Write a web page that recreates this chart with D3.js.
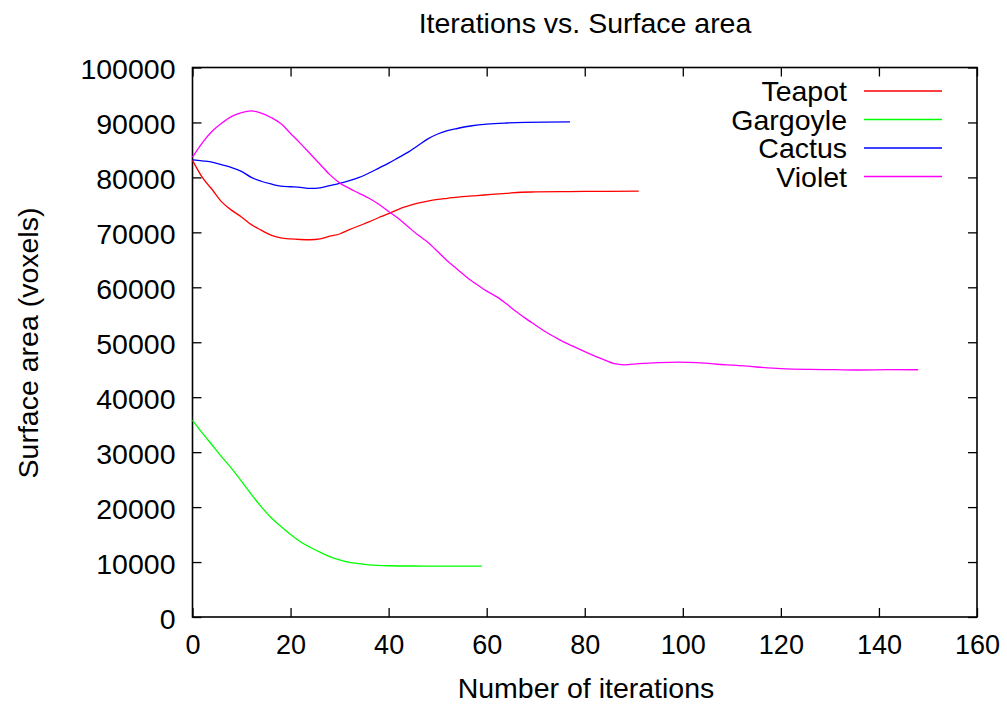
<!DOCTYPE html>
<html>
<head>
<meta charset="utf-8">
<script src="https://cdn.jsdelivr.net/npm/d3@7"></script>
<style>
  html, body { margin: 0; padding: 0; background: #fff; }
  svg { display: block; }
  text { font-family: "Liberation Sans", Arial, Helvetica, sans-serif; fill: #000; }
</style>
</head>
<body>
<svg id="chart" width="1007" height="704"></svg>
<script>
// ---- Data ----
const seriesNames = ["Teapot", "Gargoyle", "Cactus", "Violet"];
const seriesColors = ["#ff0000", "#00ff00", "#0000ff", "#ff00ff"];

const teapotIter = [0, 2, 4, 6, 8, 10, 12, 14, 16, 18, 20, 22, 24, 26, 28, 30, 32, 34, 36, 38, 40, 42, 44, 46, 48, 50, 52, 55, 58, 61, 64, 67, 70, 75, 80, 85, 91];
const teapotArea = [83100, 80000, 77800, 75500, 74000, 72800, 71400, 70400, 69500, 69000, 68800, 68700, 68650, 68800, 69300, 69700, 70500, 71200, 71900, 72700, 73400, 74200, 74800, 75300, 75700, 76000, 76200, 76500, 76700, 76900, 77100, 77300, 77350, 77400, 77450, 77450, 77500];

const gargoyleIter = [0, 2, 4, 6, 8, 10, 12, 14, 16, 18, 20, 22, 24, 26, 28, 30, 32, 34, 36, 40, 45, 50, 55, 59];
const gargoyleArea = [35800, 33500, 31300, 29100, 27000, 24700, 22300, 20100, 18100, 16500, 15000, 13700, 12700, 11800, 11000, 10400, 9950, 9700, 9500, 9330, 9280, 9270, 9270, 9270];

const cactusIter = [0, 2, 4, 6, 8, 10, 12, 14, 16, 18, 20, 22, 24, 26, 28, 30, 32, 34, 36, 38, 40, 42, 44, 46, 48, 50, 52, 54, 57, 60, 64, 68, 72, 77];
const cactusArea = [83200, 83000, 82800, 82300, 81800, 81100, 80000, 79300, 78800, 78400, 78300, 78200, 78000, 78100, 78500, 78900, 79400, 80000, 80800, 81700, 82600, 83600, 84600, 85800, 87000, 87900, 88500, 88900, 89400, 89700, 89900, 90000, 90050, 90100];

const violetIter = [0, 2, 4, 6, 8, 10, 12, 14, 16, 18, 20, 22, 24, 26, 28, 30, 32, 34, 36, 38, 40, 42, 44, 46, 48, 50, 52, 54, 56, 58, 60, 62, 64, 66, 68, 70, 72, 75, 78, 81, 84, 86, 88, 91, 95, 99, 103, 107, 111, 115, 120, 126, 131, 136, 142, 148];
const violetArea = [83700, 86300, 88400, 89900, 91100, 91800, 92100, 91700, 90900, 89800, 88000, 86200, 84300, 82400, 80500, 79000, 78000, 77100, 76200, 75100, 73800, 72500, 71000, 69500, 68200, 66500, 64800, 63300, 61800, 60500, 59300, 58300, 57000, 55600, 54300, 53100, 51900, 50400, 49100, 47900, 46800, 46100, 45900, 46100, 46300, 46400, 46300, 46000, 45800, 45500, 45200, 45050, 45000, 44950, 45000, 45000];

const xTicks = [0, 20, 40, 60, 80, 100, 120, 140, 160];
const yTicks = [0, 10000, 20000, 30000, 40000, 50000, 60000, 70000, 80000, 90000, 100000];

const titleText = "Iterations vs. Surface area";
const xLabelText = "Number of iterations";
const yLabelText = "Surface area (voxels)";

// ---- Layout ----
const margin = { left: 192.5, right: 1007 - 977, top: 67.5, bottom: 704 - 617 };
const W = 1007, H = 704;
const FS = 28.5;
const FSX = 27;

const svg = d3.select("#chart");
const x = d3.scaleLinear().domain([0, 160]).range([margin.left, W - margin.right]);
const y = d3.scaleLinear().domain([0, 100000]).range([H - margin.bottom, margin.top]);

const seriesData = [
  teapotIter.map((d, i) => [d, teapotArea[i]]),
  gargoyleIter.map((d, i) => [d, gargoyleArea[i]]),
  cactusIter.map((d, i) => [d, cactusArea[i]]),
  violetIter.map((d, i) => [d, violetArea[i]])
];

// Axes (ticks pointing inward, mirrored)
const tickLen = 9;
const fmt = d3.format("d");
const gx = svg.append("g").attr("transform", `translate(0,${y(0)})`)
  .call(d3.axisBottom(x).tickValues(xTicks).tickFormat(fmt).tickSizeInner(-tickLen).tickSizeOuter(0).tickPadding(18));
const gxt = svg.append("g").attr("transform", `translate(0,${y(100000)})`)
  .call(d3.axisTop(x).tickValues(xTicks).tickSizeInner(-tickLen).tickSizeOuter(0).tickFormat(""));
const gy = svg.append("g").attr("transform", `translate(${x(0)},0)`)
  .call(d3.axisLeft(y).tickValues(yTicks).tickFormat(fmt).tickSizeInner(-tickLen).tickSizeOuter(0).tickPadding(17));
const gyr = svg.append("g").attr("transform", `translate(${x(160)},0)`)
  .call(d3.axisRight(y).tickValues(yTicks).tickSizeInner(-tickLen).tickSizeOuter(0).tickFormat(""));

[gx, gxt, gy, gyr].forEach(g => {
  g.select(".domain").remove();
  g.selectAll(".tick line").attr("stroke", "#000").attr("stroke-width", 1.3);
  g.selectAll("text").attr("font-size", FS).attr("font-family", null).attr("fill", "#000");
});
gy.selectAll("text").attr("dy", "0.4em");
gx.selectAll("text").attr("dy", "0.72em").attr("font-size", FSX);

// Border
svg.append("rect")
  .attr("x", x(0)).attr("y", y(100000))
  .attr("width", x(160) - x(0)).attr("height", y(0) - y(100000))
  .attr("fill", "none").attr("stroke", "#000").attr("stroke-width", 1.6);

// Lines
const line = d3.line().x(d => x(d[0])).y(d => y(d[1])).curve(d3.curveMonotoneX);
svg.append("g").selectAll("path").data(seriesData).join("path")
  .attr("d", line)
  .attr("fill", "none")
  .attr("stroke", (d, i) => seriesColors[i])
  .attr("stroke-width", 1.3);

// Legend
const legend = svg.append("g");
const legendRowY = [91, 119.5, 148, 176.5];
seriesNames.forEach((name, i) => {
  legend.append("text")
    .attr("x", 847).attr("y", legendRowY[i]).attr("dy", "0.36em")
    .attr("text-anchor", "end").attr("font-size", FS).text(name);
  legend.append("line")
    .attr("x1", 864).attr("x2", 942)
    .attr("y1", legendRowY[i]).attr("y2", legendRowY[i])
    .attr("stroke", seriesColors[i]).attr("stroke-width", 1.3);
});

// Titles
svg.append("text").attr("x", 585).attr("y", 33).attr("text-anchor", "middle")
  .attr("font-size", FS).text(titleText);
svg.append("text").attr("x", 586).attr("y", 698).attr("text-anchor", "middle")
  .attr("font-size", FS).text(xLabelText);
svg.append("text").attr("transform", "translate(38,343) rotate(-90)").attr("text-anchor", "middle")
  .attr("font-size", FS).text(yLabelText);
</script>
</body>
</html>
